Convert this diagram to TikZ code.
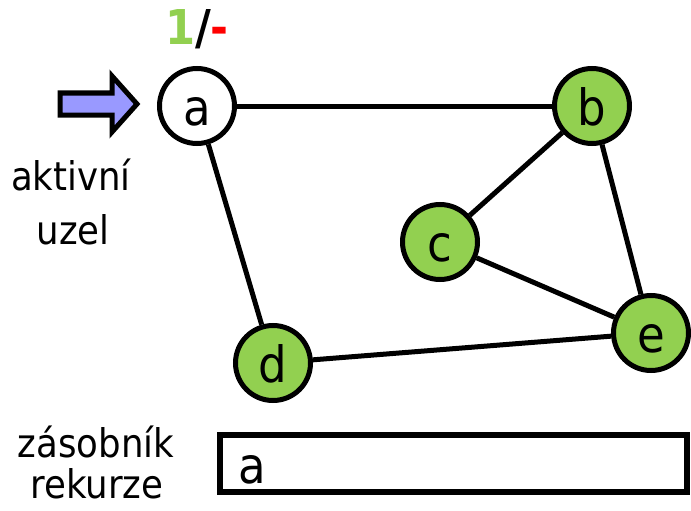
\documentclass[tikz,border=0pt]{standalone}
\usepackage{fontspec}
\setmainfont{DejaVu Sans Condensed}
\definecolor{vgreen}{HTML}{92D050}
\definecolor{vblue}{HTML}{9999FF}
\definecolor{vred}{HTML}{FF0000}
\tikzset{
  vertex/.style={circle, draw=black, line width=5pt, minimum size=75pt, inner sep=0pt,
    text height=38pt, text depth=0pt, font=\fontsize{50}{50}\selectfont},
  visited/.style={vertex, fill=vgreen},
  fresh/.style={vertex, fill=white},
  edge/.style={line width=5pt, draw=black},
  label/.style={font=\fontsize{39.5}{39.5}\selectfont, anchor=base, inner sep=0pt},
}
\begin{document}
\begin{tikzpicture}[x=1pt, y=-1pt]
\useasboundingbox (0,0) rectangle (691,511);
% vertices
\node[fresh]   (a) at (197,106) {a};
\node[visited] (b) at (592,106) {b};
\node[visited] (c) at (440,242) {c};
\node[visited] (d) at (273,363) {d};
\node[visited] (e) at (651,333) {e};
% edges
\draw[edge] (a) -- (b);
\draw[edge] (a) -- (d);
\draw[edge] (b) -- (c);
\draw[edge] (b) -- (e);
\draw[edge] (c) -- (e);
\draw[edge] (d) -- (e);
% active pointer arrow
\draw[line width=5pt, fill=vblue, line join=miter]
  (60,93) -- (112,93) -- (112,76) -- (137,104) -- (112,132) -- (112,115) -- (60,115) -- cycle;
% labels
\node[label] (l1) at (71,190) {aktivní};
\node[label] (l2) at (73,244) {uzel};
\node[label] (s1) at (96,457) {zásobník};
\node[label] (s2) at (97,498) {rekurze};
\node[anchor=base, inner sep=0pt, font=\fontsize{48}{48}\selectfont\bfseries] (num) at (197,45)
  {\textcolor{vgreen}{1}/\textcolor{vred}{-}};
% stack
\draw[line width=6pt] (220,435) rectangle (687,492);
\node[anchor=base west, inner sep=0pt, font=\fontsize{50}{50}\selectfont] (st) at (238,483) {a};
\end{tikzpicture}
\end{document}
